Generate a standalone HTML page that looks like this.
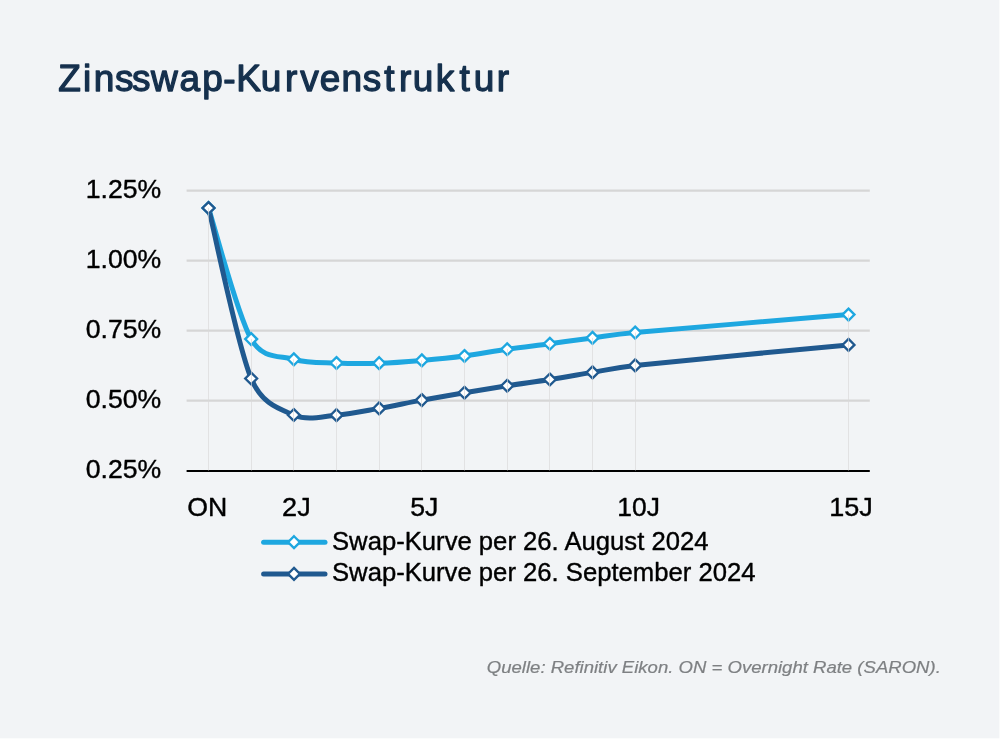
<!DOCTYPE html>
<html lang="de">
<head>
<meta charset="utf-8">
<title>Zinsswap-Kurvenstruktur</title>
<style>
html,body{margin:0;padding:0;background:#ffffff;}
body{width:1000px;height:747px;overflow:hidden;font-family:"Liberation Sans",sans-serif;}
svg{display:block;}
text{font-family:"Liberation Sans",sans-serif;}
.title{font-size:37.5px;fill:#15304d;stroke:#15304d;stroke-width:1.3px;stroke-linejoin:round;}
.lbl{font-size:25.2px;fill:#000;stroke:#000;stroke-width:0.38px;stroke-linejoin:round;}
.foot{font-size:17px;font-style:italic;fill:#7e8083;stroke:#7e8083;stroke-width:0.2px;}
</style>
</head>
<body>
<svg width="1000" height="747" viewBox="0 0 1000 747">
<rect width="999.4" height="738.3" fill="#f2f4f6"/>
<text class="title" transform="scale(0.9867,1)" x="59.13 84.12 95.10 116.46 133.69 153.16 181.95 205.03 226.36 239.34 264.26 288.77 304.31 324.07 346.20 367.55 389.41 404.31 418.32 441.61 465.67 480.04 503.38" y="91.4">Zinsswap-Kurvenstruktur</text>
<line x1="186.6" x2="869.8" y1="190.55" y2="190.55" stroke="#d6d6d6" stroke-width="2.2"/>
<line x1="186.6" x2="869.8" y1="260.55" y2="260.55" stroke="#d6d6d6" stroke-width="2.2"/>
<line x1="186.6" x2="869.8" y1="330.55" y2="330.55" stroke="#d6d6d6" stroke-width="2.2"/>
<line x1="186.6" x2="869.8" y1="400.55" y2="400.55" stroke="#d6d6d6" stroke-width="2.2"/>
<text class="lbl" x="161.2" y="197.9" text-anchor="end" textLength="75.5" lengthAdjust="spacingAndGlyphs">1.25%</text>
<text class="lbl" x="161.2" y="267.9" text-anchor="end" textLength="75.5" lengthAdjust="spacingAndGlyphs">1.00%</text>
<text class="lbl" x="161.2" y="337.9" text-anchor="end" textLength="75.5" lengthAdjust="spacingAndGlyphs">0.75%</text>
<text class="lbl" x="161.2" y="407.9" text-anchor="end" textLength="75.5" lengthAdjust="spacingAndGlyphs">0.50%</text>
<text class="lbl" x="161.2" y="477.9" text-anchor="end" textLength="75.5" lengthAdjust="spacingAndGlyphs">0.25%</text>
<line x1="186.6" x2="869.8" y1="470.95" y2="470.95" stroke="#000" stroke-width="1.95"/>
<path d="M208.50,208.00C215.61,229.85 236.94,313.88 251.17,339.10C262.76,359.66 279.61,355.32 293.83,359.30C308.06,363.28 322.28,362.35 336.50,363.00C350.72,363.65 364.94,363.63 379.17,363.20C393.39,362.77 407.61,361.60 421.83,360.40C436.06,359.20 450.28,357.86 464.50,356.00C478.72,354.14 492.94,351.29 507.17,349.25C521.39,347.21 535.61,345.64 549.83,343.75C564.06,341.86 578.28,339.77 592.50,337.90C606.72,336.03 613.76,334.50 635.17,332.55C677.83,328.66 812.94,317.55 848.50,314.55" fill="none" stroke="#1ea7e0" stroke-width="5.0" stroke-linecap="round" stroke-linejoin="round"/>
<path d="M208.50,208.00C215.61,236.42 236.94,344.00 251.17,378.50C261.87,404.46 279.61,408.88 293.83,415.00C308.06,421.12 322.28,416.30 336.50,415.20C350.72,414.10 364.94,410.92 379.17,408.40C393.39,405.88 407.61,402.71 421.83,400.10C436.06,397.49 450.28,395.14 464.50,392.75C478.72,390.36 492.94,387.96 507.17,385.75C521.39,383.54 535.61,381.73 549.83,379.50C564.06,377.27 578.28,374.75 592.50,372.40C606.72,370.05 613.67,367.71 635.17,365.40C677.83,360.82 812.94,348.32 848.50,344.90" fill="none" stroke="#20598f" stroke-width="5.0" stroke-linecap="round" stroke-linejoin="round"/>
<path d="M208.50,202.05L214.45,208.00L208.50,213.95L202.55,208.00Z" fill="#fff" stroke="#1ea7e0" stroke-width="2.35"/>
<path d="M251.17,333.15L257.12,339.10L251.17,345.05L245.22,339.10Z" fill="#fff" stroke="#1ea7e0" stroke-width="2.35"/>
<path d="M293.83,353.35L299.78,359.30L293.83,365.25L287.88,359.30Z" fill="#fff" stroke="#1ea7e0" stroke-width="2.35"/>
<path d="M336.50,357.05L342.45,363.00L336.50,368.95L330.55,363.00Z" fill="#fff" stroke="#1ea7e0" stroke-width="2.35"/>
<path d="M379.17,357.25L385.12,363.20L379.17,369.15L373.22,363.20Z" fill="#fff" stroke="#1ea7e0" stroke-width="2.35"/>
<path d="M421.83,354.45L427.78,360.40L421.83,366.35L415.88,360.40Z" fill="#fff" stroke="#1ea7e0" stroke-width="2.35"/>
<path d="M464.50,350.05L470.45,356.00L464.50,361.95L458.55,356.00Z" fill="#fff" stroke="#1ea7e0" stroke-width="2.35"/>
<path d="M507.17,343.30L513.12,349.25L507.17,355.20L501.22,349.25Z" fill="#fff" stroke="#1ea7e0" stroke-width="2.35"/>
<path d="M549.83,337.80L555.78,343.75L549.83,349.70L543.88,343.75Z" fill="#fff" stroke="#1ea7e0" stroke-width="2.35"/>
<path d="M592.50,331.95L598.45,337.90L592.50,343.85L586.55,337.90Z" fill="#fff" stroke="#1ea7e0" stroke-width="2.35"/>
<path d="M635.17,326.60L641.12,332.55L635.17,338.50L629.22,332.55Z" fill="#fff" stroke="#1ea7e0" stroke-width="2.35"/>
<path d="M848.50,308.60L854.45,314.55L848.50,320.50L842.55,314.55Z" fill="#fff" stroke="#1ea7e0" stroke-width="2.35"/>
<path d="M208.50,202.05L214.45,208.00L208.50,213.95L202.55,208.00Z" fill="#fff" stroke="#20598f" stroke-width="2.35"/>
<path d="M251.17,372.55L257.12,378.50L251.17,384.45L245.22,378.50Z" fill="#fff" stroke="#20598f" stroke-width="2.35"/>
<path d="M293.83,409.05L299.78,415.00L293.83,420.95L287.88,415.00Z" fill="#fff" stroke="#20598f" stroke-width="2.35"/>
<path d="M336.50,409.25L342.45,415.20L336.50,421.15L330.55,415.20Z" fill="#fff" stroke="#20598f" stroke-width="2.35"/>
<path d="M379.17,402.45L385.12,408.40L379.17,414.35L373.22,408.40Z" fill="#fff" stroke="#20598f" stroke-width="2.35"/>
<path d="M421.83,394.15L427.78,400.10L421.83,406.05L415.88,400.10Z" fill="#fff" stroke="#20598f" stroke-width="2.35"/>
<path d="M464.50,386.80L470.45,392.75L464.50,398.70L458.55,392.75Z" fill="#fff" stroke="#20598f" stroke-width="2.35"/>
<path d="M507.17,379.80L513.12,385.75L507.17,391.70L501.22,385.75Z" fill="#fff" stroke="#20598f" stroke-width="2.35"/>
<path d="M549.83,373.55L555.78,379.50L549.83,385.45L543.88,379.50Z" fill="#fff" stroke="#20598f" stroke-width="2.35"/>
<path d="M592.50,366.45L598.45,372.40L592.50,378.35L586.55,372.40Z" fill="#fff" stroke="#20598f" stroke-width="2.35"/>
<path d="M635.17,359.45L641.12,365.40L635.17,371.35L629.22,365.40Z" fill="#fff" stroke="#20598f" stroke-width="2.35"/>
<path d="M848.50,338.95L854.45,344.90L848.50,350.85L842.55,344.90Z" fill="#fff" stroke="#20598f" stroke-width="2.35"/>
<line x1="208.5" x2="208.5" y1="208.00" y2="470.5" stroke="#d9d9d9" stroke-width="1" stroke-opacity="0.65"/>
<line x1="251.5" x2="251.5" y1="339.10" y2="470.5" stroke="#d9d9d9" stroke-width="1" stroke-opacity="0.65"/>
<line x1="293.5" x2="293.5" y1="359.30" y2="470.5" stroke="#d9d9d9" stroke-width="1" stroke-opacity="0.65"/>
<line x1="336.5" x2="336.5" y1="363.00" y2="470.5" stroke="#d9d9d9" stroke-width="1" stroke-opacity="0.65"/>
<line x1="379.5" x2="379.5" y1="363.20" y2="470.5" stroke="#d9d9d9" stroke-width="1" stroke-opacity="0.65"/>
<line x1="421.5" x2="421.5" y1="360.40" y2="470.5" stroke="#d9d9d9" stroke-width="1" stroke-opacity="0.65"/>
<line x1="464.5" x2="464.5" y1="356.00" y2="470.5" stroke="#d9d9d9" stroke-width="1" stroke-opacity="0.65"/>
<line x1="507.5" x2="507.5" y1="349.25" y2="470.5" stroke="#d9d9d9" stroke-width="1" stroke-opacity="0.65"/>
<line x1="549.5" x2="549.5" y1="343.75" y2="470.5" stroke="#d9d9d9" stroke-width="1" stroke-opacity="0.65"/>
<line x1="592.5" x2="592.5" y1="337.90" y2="470.5" stroke="#d9d9d9" stroke-width="1" stroke-opacity="0.65"/>
<line x1="635.5" x2="635.5" y1="332.55" y2="470.5" stroke="#d9d9d9" stroke-width="1" stroke-opacity="0.65"/>
<line x1="848.5" x2="848.5" y1="314.55" y2="470.5" stroke="#d9d9d9" stroke-width="1" stroke-opacity="0.65"/>
<text class="lbl" x="207.2" y="515.9" text-anchor="middle" textLength="40" lengthAdjust="spacingAndGlyphs">ON</text>
<text class="lbl" x="296.4" y="515.9" text-anchor="middle" textLength="28.6" lengthAdjust="spacingAndGlyphs">2J</text>
<text class="lbl" x="424.3" y="515.9" text-anchor="middle" textLength="28.2" lengthAdjust="spacingAndGlyphs">5J</text>
<text class="lbl" x="638.6" y="515.9" text-anchor="middle" textLength="42.6" lengthAdjust="spacingAndGlyphs">10J</text>
<text class="lbl" x="851.1" y="515.9" text-anchor="middle" textLength="43.6" lengthAdjust="spacingAndGlyphs">15J</text>
<line x1="263.6" x2="325" y1="542.2" y2="542.2" stroke="#1ea7e0" stroke-width="5" stroke-linecap="round"/>
<path d="M294.00,536.25L299.95,542.20L294.00,548.15L288.05,542.20Z" fill="#fff" stroke="#1ea7e0" stroke-width="2.35"/>
<text class="lbl" x="332" y="549.6" textLength="376.5" lengthAdjust="spacingAndGlyphs">Swap-Kurve per 26. August 2024</text>
<line x1="263.6" x2="325" y1="573.9" y2="573.9" stroke="#20598f" stroke-width="5" stroke-linecap="round"/>
<path d="M294.00,567.95L299.95,573.90L294.00,579.85L288.05,573.90Z" fill="#fff" stroke="#20598f" stroke-width="2.35"/>
<text class="lbl" x="332" y="581.1" textLength="423.5" lengthAdjust="spacingAndGlyphs">Swap-Kurve per 26. September 2024</text>
<text class="foot" x="940.8" y="672.5" text-anchor="end" textLength="454" lengthAdjust="spacingAndGlyphs">Quelle: Refinitiv Eikon. ON = Overnight Rate (SARON).</text>
</svg>
</body>
</html>
